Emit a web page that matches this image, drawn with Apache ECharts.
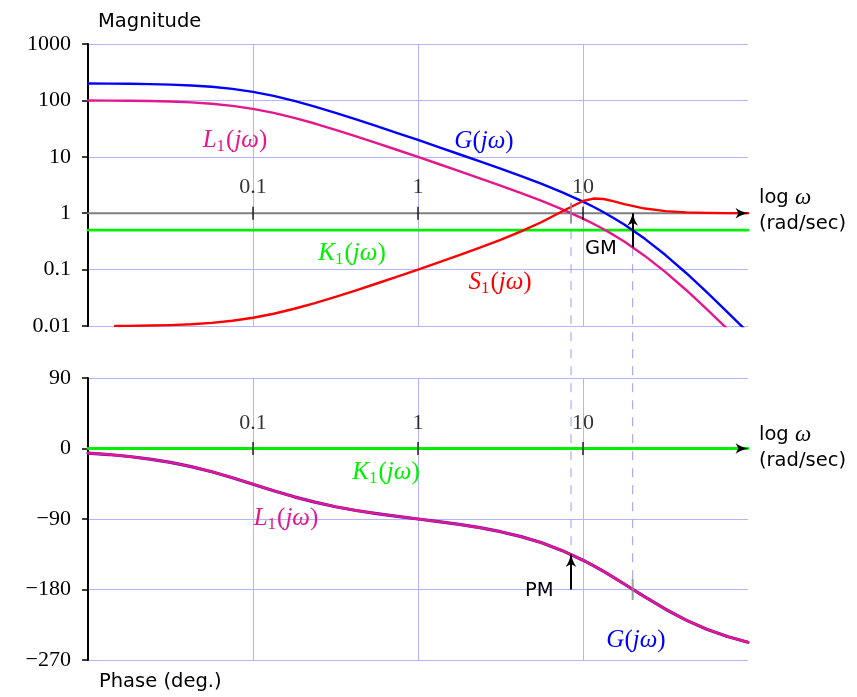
<!DOCTYPE html>
<html>
<head>
<meta charset="utf-8">
<script src="https://cdn.jsdelivr.net/npm/echarts@6/dist/echarts.min.js"></script>
<style>
  html, body { margin: 0; padding: 0; background: #fff; }
  #main { width: 857px; height: 697px; }
</style>
</head>
<body>
<div id="main"></div>
<script>
// Bode plot of the loop L1 = K1 * G with a constant controller K1 = 0.5
// Frequencies in rad/sec
const freq = [0.01, 0.01334, 0.01778, 0.02371, 0.03162, 0.04217, 0.05623, 0.07499,
  0.1, 0.1334, 0.1778, 0.2371, 0.3162, 0.4217, 0.5623, 0.7499,
  1, 1.334, 1.778, 2.371, 3.162, 4.217, 5.623, 7.499,
  10, 11.55, 13.34, 15.40, 17.78, 23.71, 31.62, 42.17, 56.23, 74.99, 100];

// |G(jw)|
const gMag = [199, 198.2, 197, 194.6, 190.8, 184.2, 174.4, 160,
  141.4, 120, 98, 77.8, 60.2, 46.2, 35, 26.4,
  19.9, 14.9, 11.1, 8.31, 6.17, 4.54, 3.30, 2.34,
  1.60, 1.30, 1.04, 0.815, 0.628, 0.351, 0.181, 0.0871, 0.0399, 0.0177, 0.00769];

// |L1(jw)|
const l1Mag = [99.5, 99.1, 98.5, 97.3, 95.4, 92.1, 87.2, 80.0,
  70.7, 60.0, 49.0, 38.9, 30.1, 23.1, 17.5, 13.2,
  9.93, 7.45, 5.57, 4.16, 3.08, 2.27, 1.65, 1.17,
  0.800, 0.649, 0.519, 0.408, 0.314, 0.175, 0.0904, 0.0435, 0.0200, 0.00886, 0.00385];

// arg L1(jw) = arg G(jw), degrees
const phaseDeg = [-5.8, -7.7, -10.2, -13.5, -17.7, -23.1, -29.7, -37.3,
  -45.6, -53.9, -61.7, -68.5, -74.3, -79.1, -83.1, -86.7,
  -90.0, -93.3, -96.9, -101.1, -106.2, -112.5, -120.4, -130.4,
  -142.6, -149.5, -157.0, -164.8, -173.0, -189.5, -205.2, -219.1, -230.7, -240.1, -247.3];

// Sensitivity |S1(jw)|, drawn from where it enters the plotted range
const sFreq = [0.0146, 0.01778, 0.02371, 0.03162, 0.04217, 0.05623, 0.07499,
  0.1, 0.1334, 0.1778, 0.2371, 0.3162, 0.4217, 0.5623, 0.7499,
  1, 1.334, 1.778, 2.371, 3.162, 4.217, 5.623, 7.499,
  10, 11.55, 13.34, 15.40, 17.78, 23.71, 31.62, 42.17, 56.23, 74.99, 100];
const s1Mag = [0.0100, 0.01006, 0.01018, 0.01038, 0.01075, 0.01136, 0.01238,
  0.0140, 0.0165, 0.0202, 0.0255, 0.0329, 0.0430, 0.0567, 0.0752,
  0.1002, 0.1342, 0.1805, 0.2450, 0.3373, 0.4758, 0.6988, 1.0827,
  1.6447, 1.8181, 1.7843, 1.6238, 1.4506, 1.2083, 1.0881, 1.0346, 1.0127, 1.0044, 1.0015];

// Controller K1(jw)
const k1Mag = 0.5;
const k1Phase = 0;

// Axis ranges and tick labels
const freqRange = [0.01, 100];
const magRange = [0.01, 1000];
const magTickLabels = ['0.01', '0.1', '1', '10', '100', '1000'];
const phaseRange = [-270, 90];
const phaseStep = 90;
const freqTickValues = [0.1, 1, 10];
const freqTickLabels = ['0.1', '1', '10'];

// Gain crossover (|L1| = 1) and phase crossover (arg L1 = -180)
const gainCross = { w: 8.46, phase: -135.2 };
const phaseCross = { w: 20, mag: 0.25, phase: -180 };

const SERIF = '"Liberation Serif", "DejaVu Serif", serif';
const SANS = '"DejaVu Sans", "Liberation Sans", sans-serif';
const BLUE = '#0000ff', MAGENTA = '#e3188c', RED = '#ff0000', GREEN = '#00f000';
const GRID = '#b3b3ff', DASH = '#9d9df5';

// Arrowhead outline: tip at the origin, pointing up (y grows downward)
const ARROW_OUTLINE = [[0, 0], [1.0, 3.5], [2.3, 7], [3.8, 10], [5.5, 12.5], [0, 9.6],
  [-5.5, 12.5], [-3.8, 10], [-2.3, 7], [-1.0, 3.5]];

const pairs = (xs, ys) => xs.map((x, i) => [x, ys[i]]);

function mathLabel(base, sub, color) {
  const text = '{i|' + base + '}' + (sub ? '{s|' + sub + '}' : '') + '{n|(}{i|jω}{n|)}';
  return {
    text,
    fill: color,
    rich: {
      i: { fontFamily: SERIF, fontStyle: 'italic', fontSize: 25, fill: color },
      n: { fontFamily: SERIF, fontSize: 25, fill: color },
      s: { fontFamily: SERIF, fontSize: 17, fill: color, padding: [13, 1, 0, 0] }
    }
  };
}

function textEl(x, y, style, align) {
  return {
    type: 'text', x, y, z: 20, silent: true,
    style: Object.assign({ align: align || 'center', verticalAlign: 'middle' }, style)
  };
}

function sansText(text) {
  return { text, fontFamily: SANS, fontSize: 19.5, fill: '#000' };
}

function logOmega() {
  return {
    text: '{a|log }{w|ω}',
    rich: {
      a: { fontFamily: SANS, fontSize: 19.5, fill: '#000' },
      w: { fontFamily: SERIF, fontStyle: 'italic', fontSize: 23, fill: '#000' }
    }
  };
}

const xAxisBase = (gridIndex) => ({
  type: 'log', logBase: 10, gridIndex,
  min: freqRange[0], max: freqRange[1],
  axisLine: { show: false }, axisTick: { show: false }, axisLabel: { show: false },
  splitLine: { show: true, showMinLine: false, showMaxLine: false, lineStyle: { color: GRID, width: 1 } }
});

const yAxisCommon = {
  axisLine: { show: true, lineStyle: { color: '#000', width: 2 } },
  axisTick: { show: true, inside: false, length: 6, lineStyle: { color: '#000', width: 1.5 } },
  splitLine: { show: true, lineStyle: { color: GRID, width: 1 } }
};

const lineSeries = (xi, data, color, width, extra) => Object.assign({
  type: 'line', xAxisIndex: xi, yAxisIndex: xi, data,
  showSymbol: false, symbol: 'none', smooth: false,
  lineStyle: { color, width, join: 'round', cap: 'round' }, itemStyle: { color }, silent: true, z: 3
}, extra || {});

const tickSeries = (xi, yv) => ({
  type: 'scatter', xAxisIndex: xi, yAxisIndex: xi,
  data: freqTickValues.map((w, i) => ({ value: [w, yv], name: freqTickLabels[i] })),
  symbol: 'rect', symbolSize: [1.6, 13], itemStyle: { color: '#000' }, silent: true, z: 6,
  label: {
    show: true, position: 'top', distance: 8,
    formatter: (p) => p.name,
    fontFamily: SERIF, fontSize: 22, color: '#000'
  }
});

const markTick = (xi, w, yv) => ({
  type: 'scatter', xAxisIndex: xi, yAxisIndex: xi,
  data: [[w, yv]], symbol: 'rect', symbolSize: [2, 21],
  itemStyle: { color: '#8a8a8a' }, silent: true, z: 5
});

// Shaft of a margin arrow; its head is added once the scales are known
const marginShaft = (from, to) => ({
  silent: true, animation: false,
  symbol: ['none', 'none'],
  label: { show: false }, emphasis: { disabled: true },
  lineStyle: { color: '#000', width: 2, type: 'solid' },
  data: [[{ coord: from }, { coord: to }]]
});

const option = {
  animation: false,
  backgroundColor: '#fff',
  grid: [
    { left: 88, top: 44, width: 660, height: 282, containLabel: false, outerBoundsMode: 'none' },
    { left: 88, top: 378, width: 660, height: 282, containLabel: false, outerBoundsMode: 'none' }
  ],
  xAxis: [xAxisBase(0), xAxisBase(1)],
  yAxis: [
    Object.assign({
      type: 'log', logBase: 10, gridIndex: 0, min: magRange[0], max: magRange[1],
      axisLabel: {
        fontFamily: SERIF, fontSize: 22, color: '#000', margin: 17,
        formatter: (v) => magTickLabels[Math.round(Math.log10(v)) + 2]
      }
    }, yAxisCommon),
    Object.assign({
      type: 'value', gridIndex: 1, min: phaseRange[0], max: phaseRange[1], interval: phaseStep,
      axisLabel: {
        fontFamily: SERIF, fontSize: 22, color: '#000', margin: 17,
        formatter: (v) => (v < 0 ? '\u2212' + (-v) : String(v))
      }
    }, yAxisCommon)
  ],
  series: [
    // magnitude panel
    lineSeries(0, pairs(freqRange, [k1Mag, k1Mag]), GREEN, 2.8, { z: 2 }),
    lineSeries(0, pairs(freqRange, [1, 1]), '#808080', 2, { z: 2 }),
    lineSeries(0, pairs(freq, gMag), BLUE, 2.4),
    lineSeries(0, pairs(freq, l1Mag), MAGENTA, 2.4, {
      markLine: marginShaft([phaseCross.w, phaseCross.mag], [phaseCross.w, 1])
    }),
    lineSeries(0, pairs(sFreq, s1Mag), RED, 2.4, { z: 4 }),
    markTick(0, gainCross.w, 1),
    tickSeries(0, 1),
    // phase panel
    lineSeries(1, pairs(freqRange, [k1Phase, k1Phase]), GREEN, 2.8, { z: 2 }),
    lineSeries(1, pairs(freq, phaseDeg), '#5a10c8', 3.2),
    lineSeries(1, pairs(freq, phaseDeg), MAGENTA, 2.4, {
      z: 4,
      markLine: marginShaft([gainCross.w, phaseCross.phase], [gainCross.w, gainCross.phase])
    }),
    markTick(1, phaseCross.w, phaseCross.phase),
    tickSeries(1, k1Phase)
  ],
  graphic: [
    textEl(98, 22, sansText('Magnitude'), 'left'),
    textEl(99, 682, sansText('Phase (deg.)'), 'left'),
    textEl(759, 198, logOmega(), 'left'),
    textEl(759, 224, sansText('(rad/sec)'), 'left'),
    textEl(759, 435, logOmega(), 'left'),
    textEl(759, 461, sansText('(rad/sec)'), 'left'),
    textEl(585, 249, sansText('GM'), 'left'),
    textEl(525, 591, sansText('PM'), 'left'),
    textEl(235, 140, mathLabel('L', '1', MAGENTA)),
    textEl(484, 141, mathLabel('G', '', BLUE)),
    textEl(352, 253, mathLabel('K', '1', GREEN)),
    textEl(500, 282, mathLabel('S', '1', RED)),
    textEl(386, 472, mathLabel('K', '1', GREEN)),
    textEl(286, 518, mathLabel('L', '1', MAGENTA)),
    textEl(636, 640, mathLabel('G', '', BLUE))
  ]
};

const chart = echarts.init(document.getElementById('main'), null, { renderer: 'canvas' });
chart.setOption(option);

const toPx = (panel, v) => chart.convertToPixel({ xAxisIndex: panel, yAxisIndex: panel }, v);

// Dashed guides from the magnitude panel down to the phase panel
const guides = [
  { w: gainCross.w, mag: 1, phase: gainCross.phase },
  { w: phaseCross.w, mag: 1, phase: phaseCross.phase }
];
const guideEls = guides.map((g) => {
  const top = toPx(0, [g.w, g.mag]);
  const bottom = toPx(1, [g.w, g.phase]);
  return {
    type: 'line', silent: true, z: 1,
    shape: { x1: top[0], y1: top[1], x2: bottom[0], y2: bottom[1] },
    style: { stroke: DASH, lineWidth: 1, lineDash: [9, 8] }
  };
});

// Arrowheads: ends of both frequency axes and tips of the GM / PM arrows
const heads = [
  { panel: 0, at: [freqRange[1], 1], dir: 'right' },
  { panel: 1, at: [freqRange[1], k1Phase], dir: 'right' },
  { panel: 0, at: [phaseCross.w, 1], dir: 'up' },
  { panel: 1, at: [gainCross.w, gainCross.phase], dir: 'up' }
];
const headEls = heads.map((h) => {
  const p = toPx(h.panel, h.at);
  const pts = ARROW_OUTLINE.map(([x, y]) =>
    h.dir === 'right' ? [p[0] - y, p[1] + x] : [p[0] + x, p[1] + y]);
  return {
    type: 'polygon', silent: true, z: 30,
    shape: { points: pts },
    style: { fill: '#000' }
  };
});

chart.setOption({ graphic: option.graphic.concat(guideEls, headEls) });
</script>
</body>
</html>
